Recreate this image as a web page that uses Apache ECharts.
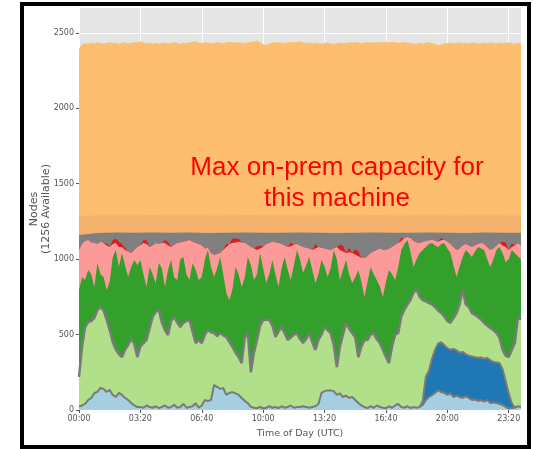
<!DOCTYPE html>
<html><head><meta charset="utf-8">
<script src="https://cdn.jsdelivr.net/npm/echarts@6/dist/echarts.min.js"></script>
<style>
html,body{margin:0;padding:0;background:#fff;}
#chart{position:absolute;left:0;top:0;width:533px;height:449px;}
#frame{position:absolute;left:20px;top:2px;width:511px;height:447px;box-sizing:border-box;border:4px solid #000;pointer-events:none;}
</style></head><body>
<div id="chart"></div><div id="frame"></div>
<script>
// time of day in minutes (10-minute samples)
const minutes = [0,10,20,30,40,50,60,70,80,90,100,110,120,130,140,150,160,170,180,190,200,210,220,230,240,250,260,270,280,290,300,310,320,330,340,350,360,370,380,390,400,410,420,430,440,450,460,470,480,490,500,510,520,530,540,550,560,570,580,590,600,610,620,630,640,650,660,670,680,690,700,710,720,730,740,750,760,770,780,790,800,810,820,830,840,850,860,870,880,890,900,910,920,930,940,950,960,970,980,990,1000,1010,1020,1030,1040,1050,1060,1070,1080,1090,1100,1110,1120,1130,1140,1150,1160,1170,1180,1190,1200,1210,1220,1230,1240,1250,1260,1270,1280,1290,1300,1310,1320,1330,1340,1350,1360,1370,1380,1390,1400,1410,1420,1430,1440];
const hourMinutes = [0,60,120,180,240,300,360,420,480,540,600,660,720,780,840,900,960,1020,1080,1140,1200,1260,1320,1380,1440];
const darkBlueMinutes = [1110,1120,1130,1140,1150,1160,1170,1180,1190,1200,1210,1220,1230,1240,1250,1260,1270,1280,1290,1300,1310,1320,1330,1340,1350,1360,1370,1380,1390,1400,1410,1420];

// cumulative levels (top edge of each stacked layer), in nodes
const orangeTop = [2395,2425,2432,2428,2436,2430,2438,2433,2429,2435,2440,2432,2436,2428,2434,2438,2431,2435,2440,2436,2445,2438,2432,2436,2430,2434,2428,2433,2437,2430,2435,2439,2433,2428,2436,2432,2438,2441,2445,2437,2433,2438,2436,2430,2434,2440,2436,2432,2438,2442,2436,2440,2434,2438,2432,2436,2440,2445,2450,2438,2425,2420,2430,2436,2440,2434,2438,2432,2436,2440,2436,2442,2445,2438,2434,2436,2430,2434,2432,2428,2433,2436,2430,2426,2432,2436,2430,2434,2438,2436,2440,2436,2432,2436,2440,2438,2434,2440,2436,2438,2442,2436,2440,2438,2434,2436,2440,2437,2433,2430,2428,2434,2430,2436,2438,2432,2426,2420,2424,2430,2432,2436,2430,2434,2438,2432,2436,2430,2434,2436,2432,2430,2436,2432,2438,2434,2430,2436,2432,2434,2436,2432,2430,2434,2432];
const bandTop = [1288,1290,1291,1290,1292,1290,1291,1290,1290,1292,1290,1291,1290,1290,1291,1290,1292,1290,1290,1291,1290,1290,1291,1290,1290];
const grayTop = [1160,1174,1176,1175,1176,1175,1176,1174,1175,1176,1175,1175,1176,1175,1174,1175,1176,1175,1175,1176,1175,1174,1176,1175,1175];
const pinkTop = [1061,1100,1120,1127,1110,1107,1100,1115,1107,1090,1081,1100,1107,1081,1081,1061,1050,1041,1061,1081,1090,1107,1100,1081,1090,1107,1100,1107,1107,1090,1081,1095,1107,1110,1115,1120,1127,1115,1107,1100,1090,1070,1075,1040,1028,1035,1040,1060,1081,1100,1107,1110,1115,1110,1107,1095,1081,1070,1061,1070,1081,1100,1107,1115,1110,1107,1100,1090,1081,1085,1095,1100,1090,1081,1075,1070,1061,1070,1081,1075,1070,1065,1061,1070,1080,1061,1050,1041,1045,1041,1030,1020,1010,1008,1020,1040,1050,1061,1070,1061,1060,1070,1081,1095,1107,1120,1140,1147,1140,1120,1110,1107,1115,1120,1125,1130,1120,1115,1125,1130,1115,1100,1081,1061,1070,1090,1100,1090,1081,1090,1100,1107,1100,1081,1061,1070,1090,1107,1090,1081,1061,1081,1090,1107,1090];
const redOnPink = [0,0,0,0,0,0,0,0,0,15,0,25,30,35,20,15,0,0,0,0,0,20,25,0,0,0,0,0,20,25,0,0,0,0,0,0,0,0,0,0,0,0,0,0,0,0,0,0,20,0,30,25,20,0,0,0,0,0,25,20,0,0,0,0,0,0,0,0,0,25,0,0,0,0,0,0,0,30,0,0,0,0,0,0,0,35,40,0,30,0,35,30,0,0,0,0,0,0,0,0,0,0,0,0,0,20,0,0,0,0,0,0,0,0,0,0,0,0,15,0,0,0,0,0,0,0,0,0,0,0,0,0,0,0,0,0,0,0,25,30,0,25,0,0,0];
const greenTop = [796,880,862,928,900,816,975,900,882,796,850,1015,1061,948,1041,960,882,948,995,960,995,900,816,948,900,842,975,940,816,930,995,880,862,1000,1015,900,862,975,930,862,882,1000,1061,950,882,940,1015,900,776,729,800,948,900,816,880,1015,960,862,900,1041,940,842,900,995,900,816,940,1015,930,862,960,1061,1000,908,960,1015,930,842,900,995,950,882,940,1061,1000,862,930,995,900,842,880,928,850,749,850,948,900,862,820,749,850,928,900,862,950,1061,1100,1127,1050,948,1000,1041,1060,1081,1100,1107,1090,1081,1100,1107,1070,1041,960,882,950,1015,1061,1040,1015,1050,1081,1070,1061,1000,948,1000,1061,1081,1040,980,1000,1061,1040,1020,1000];
const lightGreenTop = [220,420,550,583,590,610,663,683,660,600,530,450,400,370,351,400,431,470,440,351,420,444,464,540,617,650,663,580,530,497,590,617,580,550,577,590,597,520,444,464,444,500,530,515,510,490,510,495,484,450,418,380,351,311,480,510,250,380,464,560,597,600,597,560,484,520,550,510,464,480,500,510,470,444,470,510,450,398,464,500,550,530,510,430,285,418,500,577,540,510,480,351,420,464,464,500,510,470,444,400,351,311,420,500,510,620,663,700,729,780,796,750,729,720,709,700,683,660,643,620,590,577,610,643,700,796,700,683,643,630,617,600,577,560,544,530,510,480,398,360,351,400,444,617,600];
const darkBlueTop = [20,60,220,260,340,400,440,450,430,410,400,405,395,380,385,370,360,355,350,345,348,340,345,330,318,315,311,270,190,110,45,15];
const lightBlueTop = [22,30,40,66,80,113,120,146,140,119,133,100,86,113,100,80,66,46,30,20,20,15,30,20,15,25,12,20,30,15,20,35,15,20,40,15,20,25,45,15,30,66,60,66,166,153,140,146,100,113,119,110,100,80,60,46,20,15,12,20,10,15,25,15,20,12,25,15,20,30,15,20,20,25,20,15,20,25,40,113,125,130,130,125,100,110,86,95,80,86,66,46,30,20,12,25,15,30,20,15,12,25,15,30,40,20,15,25,12,20,15,20,33,66,86,99,113,130,119,113,100,110,86,95,86,80,90,80,66,70,60,66,55,66,46,50,46,40,33,20,10,13,15,25,20];

const xTickMinutes = [0,200,400,600,800,1000,1200,1400];
const yTicks = [0,500,1000,1500,2000,2500];
const annotation = 'Max on-prem capacity for\nthis machine';

function fmt(v){const h=Math.floor(v/60),m=Math.round(v%60);return String(h).padStart(2,'0')+':'+String(m).padStart(2,'0');}
function area(name, xs, ys, color, lineW){
  return {type:'line', name, data: xs.map((x,i)=>[x, ys[i]]), symbol:'none', showSymbol:false, silent:true,
    lineStyle: lineW ? {color:'#7a7a7a', width:lineW} : {width:0},
    itemStyle:{color}, areaStyle:{color, opacity:1}, emphasis:{disabled:true}};
}
const redTop = pinkTop.map((v,i)=>v+redOnPink[i]);
const series = [
  area('Cloud burst', minutes, orangeTop, '#fdbf6f'),
  area('Reserved', hourMinutes, bandTop, '#f4b16c'),
  area('Idle', hourMinutes, grayTop, '#808080'),
  area('Red jobs', minutes, redTop, '#e31a1c'),
  area('Pink jobs', minutes, pinkTop, '#fb9a99'),
  area('Green jobs', minutes, greenTop, '#33a02c'),
  area('Light green jobs', minutes, lightGreenTop, '#b2df8a', 2.5),
  area('Dark blue jobs', darkBlueMinutes, darkBlueTop, '#1f78b4', 2),
  area('Light blue jobs', minutes, lightBlueTop, '#a6cee3', 2)
];
const txt = {fontFamily:'DejaVu Sans', fontSize:8, color:'#555'};
const chart = echarts.init(document.getElementById('chart'), null, {renderer:'canvas'});
chart.setOption({
  animation:false,
  backgroundColor:'transparent',
  grid:{left:79, right:12, top:8, bottom:39, show:true, backgroundColor:'#e5e5e5', borderWidth:0},
  xAxis:{type:'value', min:0, max:1440, interval:200,
    axisLine:{show:false},
    axisTick:{show:true, length:3, lineStyle:{color:'#555'}, customValues:xTickMinutes},
    axisLabel:Object.assign({formatter:fmt, margin:5, customValues:xTickMinutes}, txt),
    splitLine:{show:true, lineStyle:{color:'#ffffff', width:1}},
    name:'Time of Day (UTC)', nameLocation:'middle', nameGap:19, nameMoveOverlap:false,
    nameTextStyle:{fontFamily:'DejaVu Sans', fontSize:9.5, color:'#555'}},
  yAxis:{type:'value', min:0, max:2665, interval:500,
    axisLine:{show:false},
    axisTick:{show:true, length:3, lineStyle:{color:'#555'}, customValues:yTicks},
    axisLabel:Object.assign({margin:5, customValues:yTicks, formatter:v=>String(v)}, txt),
    splitLine:{show:true, lineStyle:{color:'#ffffff', width:1}},
    name:'Nodes\n(1256 Available)', nameLocation:'middle', nameGap:27, nameMoveOverlap:false,
    nameTextStyle:{fontFamily:'DejaVu Sans', fontSize:11, color:'#555', lineHeight:12}},
  graphic:[{type:'text', x:337, y:183, z:100, silent:true,
    style:{text:annotation, fill:'#ff0000', fontFamily:'Liberation Sans', fontSize:26, lineHeight:31, align:'center', verticalAlign:'middle'}}],
  series
});
</script></body></html>
